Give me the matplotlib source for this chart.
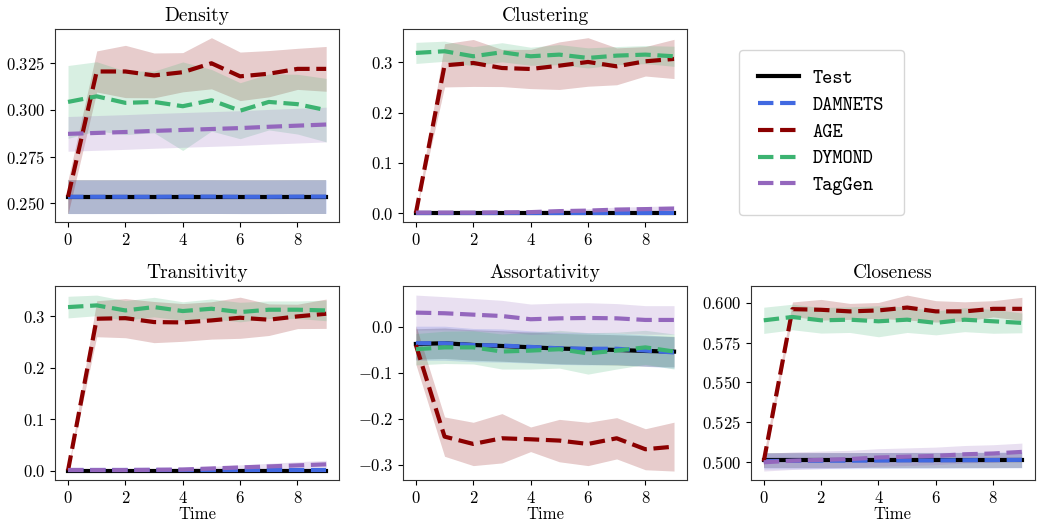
import numpy as np
import matplotlib
matplotlib.use("Agg")
import matplotlib.pyplot as plt

plt.rcParams["font.family"] = "cmr10"
plt.rcParams["mathtext.fontset"] = "cm"
plt.rcParams["axes.formatter.use_mathtext"] = True
plt.rcParams["axes.edgecolor"] = "#333333"

time = [0, 1, 2, 3, 4, 5, 6, 7, 8, 9]
models = ["Test", "DAMNETS", "AGE", "DYMOND", "TagGen"]
colors = {"Test": "black", "DAMNETS": "royalblue", "AGE": "darkred",
          "DYMOND": "mediumseagreen", "TagGen": "tab:purple"}

density = {
    "Test": [0.2535, 0.2535, 0.2535, 0.2535, 0.2535, 0.2535, 0.2535, 0.2535, 0.2535, 0.2535],
    "DAMNETS": [0.2535, 0.2535, 0.2535, 0.2535, 0.2536, 0.2536, 0.2535, 0.2535, 0.2536, 0.2536],
    "AGE": [0.2535, 0.3206, 0.3206, 0.3185, 0.3202, 0.3250, 0.3180, 0.3194, 0.3220, 0.3220],
    "DYMOND": [0.3043, 0.3073, 0.3038, 0.3043, 0.3020, 0.3052, 0.2996, 0.3043, 0.3031, 0.2999],
    "TagGen": [0.2872, 0.2877, 0.2882, 0.2888, 0.2893, 0.2898, 0.2903, 0.2910, 0.2916, 0.2922],
}
density_sd = {
    "Test": [0.009, 0.009, 0.009, 0.009, 0.009, 0.009, 0.009, 0.009, 0.009, 0.009],
    "DAMNETS": [0.009, 0.009, 0.009, 0.009, 0.009, 0.009, 0.009, 0.009, 0.009, 0.009],
    "AGE": [0.009, 0.011, 0.014, 0.012, 0.0105, 0.0137, 0.013, 0.0124, 0.011, 0.012],
    "DYMOND": [0.0195, 0.0185, 0.017, 0.0165, 0.0237, 0.0165, 0.015, 0.015, 0.016, 0.017],
    "TagGen": [0.0093, 0.0093, 0.0093, 0.0093, 0.0093, 0.0093, 0.0093, 0.0093, 0.0093, 0.0093],
}

clustering = {
    "Test": [0.0, 0.0, 0.0, 0.0, 0.0, 0.0, 0.0, 0.0, 0.0, 0.0],
    "DAMNETS": [0.0005, 0.0005, 0.0005, 0.0005, 0.0005, 0.0005, 0.0005, 0.0005, 0.0005, 0.0005],
    "AGE": [0.0, 0.294, 0.2987, 0.2887, 0.2867, 0.2933, 0.3007, 0.292, 0.302, 0.3067],
    "DYMOND": [0.3187, 0.322, 0.312, 0.320, 0.312, 0.3153, 0.3087, 0.3133, 0.3153, 0.312],
    "TagGen": [0.001, 0.001, 0.001, 0.0015, 0.002, 0.004, 0.005, 0.007, 0.008, 0.009],
}
clustering_sd = {
    "Test": [0.0005, 0.0005, 0.0005, 0.0005, 0.0005, 0.0005, 0.0005, 0.0005, 0.0005, 0.0005],
    "DAMNETS": [0.001, 0.001, 0.001, 0.001, 0.001, 0.001, 0.001, 0.001, 0.001, 0.001],
    "AGE": [0.001, 0.043, 0.0467, 0.037, 0.039, 0.0473, 0.0483, 0.0367, 0.0293, 0.039],
    "DYMOND": [0.021, 0.02, 0.019, 0.019, 0.018, 0.02, 0.02, 0.018, 0.018, 0.02],
    "TagGen": [0.002, 0.002, 0.002, 0.002, 0.003, 0.003, 0.004, 0.005, 0.005, 0.006],
}

transitivity = {
    "Test": [0.0, 0.0, 0.0, 0.0, 0.0, 0.0, 0.0, 0.0, 0.0, 0.0],
    "DAMNETS": [0.0005, 0.0005, 0.0005, 0.0005, 0.0005, 0.0005, 0.0005, 0.0005, 0.0005, 0.0005],
    "AGE": [0.0, 0.2949, 0.296, 0.2884, 0.2877, 0.2916, 0.2968, 0.293, 0.2994, 0.3046],
    "DYMOND": [0.3175, 0.3208, 0.311, 0.3175, 0.3098, 0.3143, 0.3078, 0.3124, 0.3124, 0.311],
    "TagGen": [0.001, 0.001, 0.001, 0.0015, 0.002, 0.004, 0.006, 0.008, 0.010, 0.012],
}
transitivity_sd = {
    "Test": [0.0005, 0.0005, 0.0005, 0.0005, 0.0005, 0.0005, 0.0005, 0.0005, 0.0005, 0.0005],
    "DAMNETS": [0.001, 0.001, 0.001, 0.001, 0.001, 0.001, 0.001, 0.001, 0.001, 0.001],
    "AGE": [0.001, 0.035, 0.038, 0.040, 0.0367, 0.0363, 0.040, 0.0307, 0.0237, 0.0285],
    "DYMOND": [0.021, 0.02, 0.019, 0.019, 0.018, 0.019, 0.019, 0.017, 0.017, 0.02],
    "TagGen": [0.002, 0.002, 0.002, 0.002, 0.003, 0.004, 0.005, 0.006, 0.007, 0.008],
}

assortativity = {
    "Test": [-0.0376, -0.036, -0.0398, -0.042, -0.0448, -0.0477, -0.049, -0.0506, -0.0528, -0.0542],
    "DAMNETS": [-0.036, -0.036, -0.040, -0.041, -0.044, -0.047, -0.048, -0.048, -0.052, -0.056],
    "AGE": [-0.040, -0.2386, -0.2545, -0.2422, -0.2444, -0.2472, -0.2545, -0.2422, -0.266, -0.2603],
    "DYMOND": [-0.049, -0.045, -0.045, -0.054, -0.052, -0.049, -0.058, -0.052, -0.045, -0.054],
    "TagGen": [0.0304, 0.029, 0.026, 0.023, 0.016, 0.018, 0.0188, 0.018, 0.0145, 0.0145],
}
assortativity_sd = {
    "Test": [0.033, 0.033, 0.033, 0.033, 0.033, 0.033, 0.033, 0.033, 0.033, 0.033],
    "DAMNETS": [0.037, 0.037, 0.036, 0.036, 0.035, 0.035, 0.035, 0.034, 0.034, 0.034],
    "AGE": [0.042, 0.0427, 0.047, 0.0535, 0.0267, 0.046, 0.047, 0.0448, 0.0445, 0.053],
    "DYMOND": [0.034, 0.035, 0.036, 0.038, 0.04, 0.041, 0.045, 0.04, 0.037, 0.038],
    "TagGen": [0.038, 0.036, 0.035, 0.034, 0.033, 0.033, 0.033, 0.032, 0.031, 0.031],
}

closeness = {
    "Test": [0.5012, 0.5012, 0.5012, 0.5012, 0.5012, 0.5012, 0.5012, 0.5012, 0.5012, 0.5012],
    "DAMNETS": [0.5008, 0.5009, 0.501, 0.501, 0.5011, 0.5012, 0.5012, 0.5013, 0.5014, 0.5015],
    "AGE": [0.5005, 0.5959, 0.5955, 0.5945, 0.5951, 0.5969, 0.5945, 0.5945, 0.5961, 0.5961],
    "DYMOND": [0.5889, 0.591, 0.5889, 0.5893, 0.5883, 0.5893, 0.5873, 0.5893, 0.5883, 0.5873],
    "TagGen": [0.500, 0.501, 0.5015, 0.502, 0.503, 0.5035, 0.504, 0.505, 0.5055, 0.5065],
}
closeness_sd = {
    "Test": [0.0045, 0.0045, 0.0045, 0.0045, 0.0045, 0.0045, 0.0045, 0.0045, 0.0045, 0.0045],
    "DAMNETS": [0.005, 0.005, 0.005, 0.005, 0.005, 0.005, 0.005, 0.005, 0.005, 0.005],
    "AGE": [0.004, 0.0045, 0.0065, 0.005, 0.005, 0.0078, 0.0067, 0.006, 0.0051, 0.0072],
    "DYMOND": [0.0082, 0.008, 0.008, 0.008, 0.0097, 0.008, 0.0075, 0.0075, 0.0075, 0.0062],
    "TagGen": [0.0055, 0.0055, 0.0055, 0.0055, 0.0055, 0.0055, 0.0055, 0.0055, 0.0055, 0.0055],
}


def draw(ax, title, means, sds, xlabel=False):
    x = np.array(time)
    for m in models:
        mu = np.array(means[m])
        sd = np.array(sds[m])
        ax.fill_between(x, mu - sd, mu + sd, color=colors[m], alpha=0.2, lw=0)
    for m in models:
        ls = "-" if m == "Test" else "--"
        ax.plot(x, means[m], color=colors[m], ls=ls, lw=3, label=m)
    ax.set_title(title, fontsize=14)
    ax.tick_params(labelsize=12)
    if xlabel:
        ax.set_xlabel("Time", fontsize=12, labelpad=1)


fig, axes = plt.subplots(2, 3, figsize=(10.4, 5.25), dpi=100)
plt.subplots_adjust(left=0.053, right=0.995, top=0.945, bottom=0.086,
                    wspace=0.225, hspace=0.33)
draw(axes[0, 0], "Density", density, density_sd)
draw(axes[0, 1], "Clustering", clustering, clustering_sd)
draw(axes[1, 0], "Transitivity", transitivity, transitivity_sd, True)
draw(axes[1, 1], "Assortativity", assortativity, assortativity_sd, True)
draw(axes[1, 2], "Closeness", closeness, closeness_sd, True)
axes[0, 2].axis("off")

handles, labels = axes[0, 0].get_legend_handles_labels()
fig.legend(handles, labels, loc="upper left", bbox_to_anchor=(739 / 1040, 1 - 50 / 525),
           borderaxespad=0, prop={"family": "cmtt10", "size": 14}, borderpad=1.0,
           labelspacing=0.42, handlelength=2.1, handletextpad=0.7,
           edgecolor="#cccccc")

fig.savefig("out.png", dpi=100)
